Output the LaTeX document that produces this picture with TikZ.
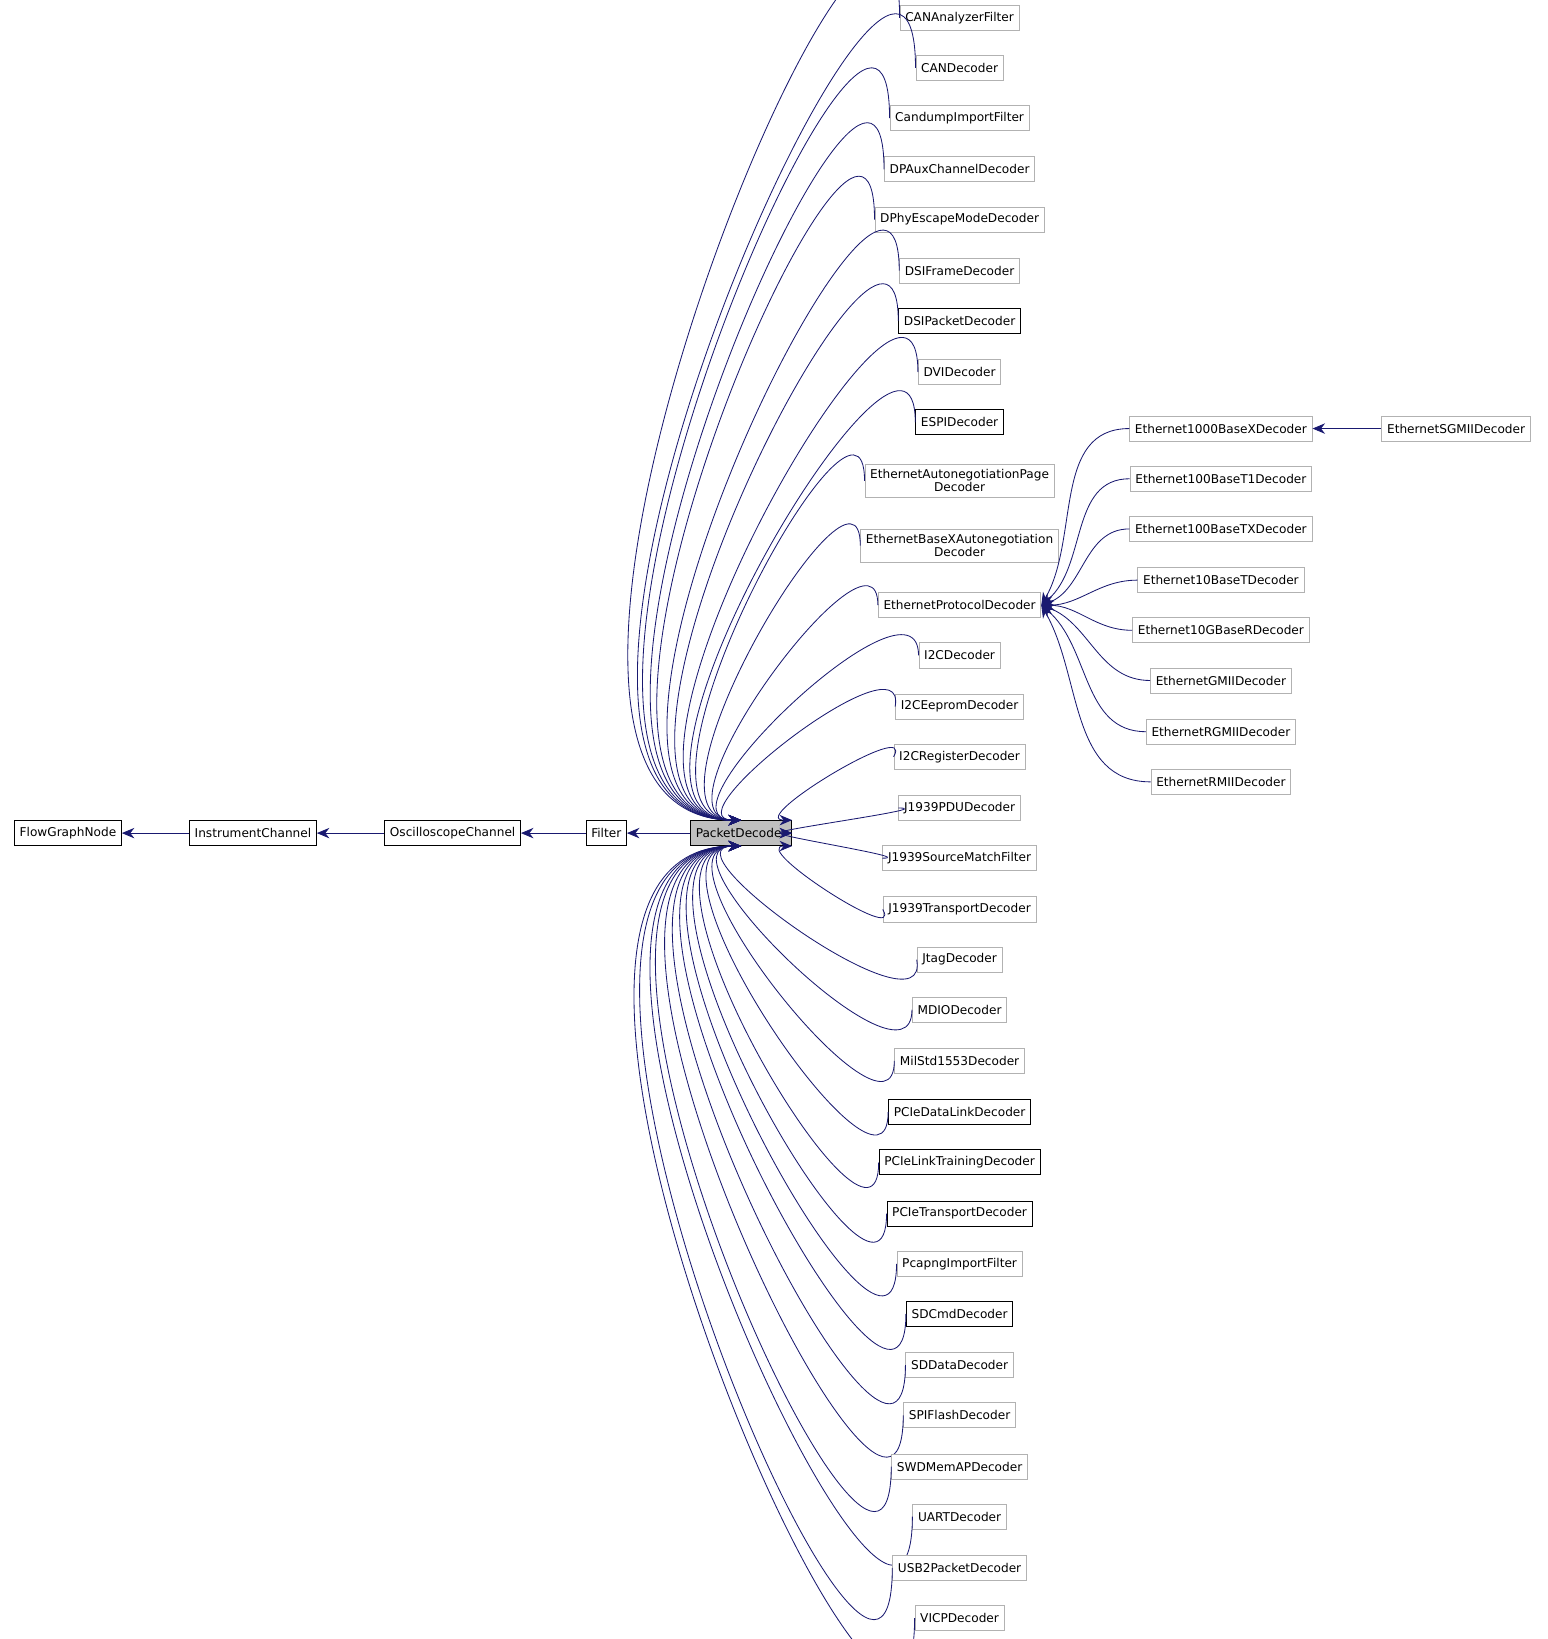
\documentclass[tikz,border=0pt]{standalone}
\usepackage{fontspec}
\setmainfont{DejaVu Sans}
\usetikzlibrary{arrows.meta}
\definecolor{edgeblue}{RGB}{25,25,112}
\tikzset{
  cls/.style={draw=black!30, fill=white, font=\fontsize{5.8}{6.2}\selectfont, inner sep=2.5pt, minimum height=12pt, align=center},
  clsdoc/.style={cls, draw=black},
  inh/.style={edgeblue, {Stealth[length=6pt,width=5pt]}-},
}
\begin{document}
\begin{tikzpicture}[x=0.5pt, y=-0.5pt]
\useasboundingbox (0,0) rectangle (1480,1568);
% base chain
\node[clsdoc] (fgn) at (65,797) {FlowGraphNode};
\node[clsdoc] (ich) at (242,797) {InstrumentChannel};
\node[clsdoc] (och) at (433,797) {OscilloscopeChannel};
\node[clsdoc] (flt) at (580,797) {Filter};
\node[clsdoc, fill=black!25] (pd) at (709,797) {PacketDecoder};
\draw[inh] (fgn) -- (ich);
\draw[inh] (ich) -- (och);
\draw[inh] (och) -- (flt);
\draw[inh] (flt) -- (pd);
% subclasses of PacketDecoder
\foreach \name/\txt/\yy/\st/\tgt/\ang in {
  canaf/CANAnalyzerFilter/17/cls/north/90,
  cand/CANDecoder/65/cls/north/90,
  cdif/CandumpImportFilter/113/cls/north/90,
  dpaux/DPAuxChannelDecoder/162/cls/north/90,
  dphy/DPhyEscapeModeDecoder/210/cls/north/90,
  dsif/DSIFrameDecoder/259/cls/north/90,
  dsip/DSIPacketDecoder/307/clsdoc/north/90,
  dvi/DVIDecoder/356/cls/north/90,
  espi/ESPIDecoder/404/clsdoc/north/90,
  eap/{EthernetAutonegotiationPage\\Decoder}/460/cls/north/90,
  ebx/{EthernetBaseXAutonegotiation\\Decoder}/522/cls/north/90,
  epd/EthernetProtocolDecoder/579/cls/north/90,
  i2c/I2CDecoder/627/cls/north/90,
  i2ce/I2CEepromDecoder/676/cls/north/80,
  i2cr/I2CRegisterDecoder/724/cls/north east/60,
  jpdu/J1939PDUDecoder/773/cls/east/0,
  jsmf/J1939SourceMatchFilter/821/cls/east/0,
  jtd/J1939TransportDecoder/870/cls/south east/-60,
  jtag/JtagDecoder/918/cls/south/-80,
  mdio/MDIODecoder/966/cls/south/-90,
  mil/MilStd1553Decoder/1015/cls/south/-90,
  pcidl/PCIeDataLinkDecoder/1064/clsdoc/south/-90,
  pcilt/PCIeLinkTrainingDecoder/1112/clsdoc/south/-90,
  pcit/PCIeTransportDecoder/1161/clsdoc/south/-90,
  pcap/PcapngImportFilter/1209/cls/south/-90,
  sdc/SDCmdDecoder/1257/clsdoc/south/-90,
  sdd/SDDataDecoder/1306/cls/south/-90,
  spif/SPIFlashDecoder/1354/cls/south/-90,
  swd/SWDMemAPDecoder/1403/cls/south/-90,
  uart/UARTDecoder/1451/cls/south/-90,
  usb/USB2PacketDecoder/1500/cls/south/-90,
  vicp/VICPDecoder/1548/cls/south/-90}{
  \node[\st] (\name) at (918,\yy) {\txt};
  \draw[inh] (pd.\tgt) to[in=\ang, out=180] (\name.west);
}
% subclasses of EthernetProtocolDecoder
\foreach \name/\txt/\yy/\ang in {
  e1000/Ethernet1000BaseXDecoder/410/60,
  e100t1/Ethernet100BaseT1Decoder/458/40,
  e100tx/Ethernet100BaseTXDecoder/506/20,
  e10t/Ethernet10BaseTDecoder/555/0,
  e10g/Ethernet10GBaseRDecoder/603/0,
  egmii/EthernetGMIIDecoder/651/-20,
  ergmii/EthernetRGMIIDecoder/700/-40,
  ermii/EthernetRMIIDecoder/748/-60}{
  \node[cls] (\name) at (1168,\yy) {\txt};
  \draw[inh] (epd.east) to[in=180, out=\ang] (\name.west);
}
\node[cls] (esgmii) at (1393,410) {EthernetSGMIIDecoder};
\draw[inh] (e1000) -- (esgmii);
\end{tikzpicture}
\end{document}
